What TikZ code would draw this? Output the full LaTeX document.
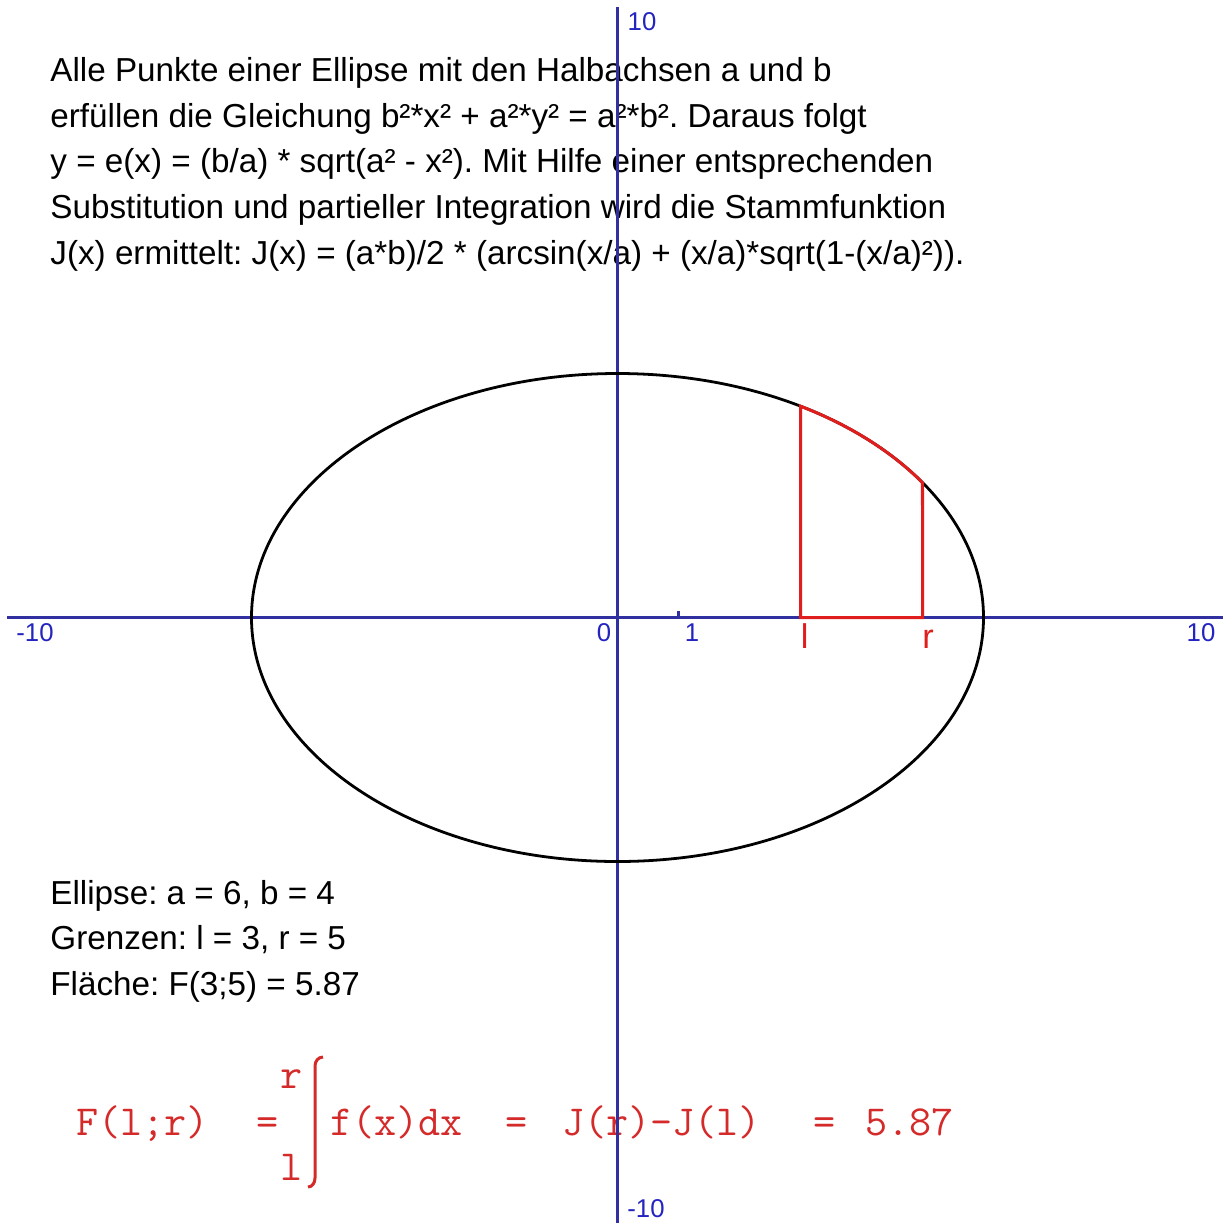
\documentclass[tikz,border=0pt]{standalone}
\usepackage{fontspec}
\setmainfont{Liberation Sans}
\usepackage{tikz}
\definecolor{axisblue}{HTML}{3030A0}
\definecolor{tickblue}{HTML}{2424C0}
\definecolor{arealred}{HTML}{E01E1E}
\definecolor{formred}{HTML}{D42A2A}
\frenchspacing

\tikzset{
  txt/.style={anchor=base west, inner sep=0pt, font=\fontsize{15.5}{18}\selectfont},
  axlabel/.style={anchor=base, inner sep=0pt, text=tickblue, font=\fontsize{12}{14}\selectfont},
  limlabel/.style={anchor=base, inner sep=0pt, text=arealred, font=\fontsize{16}{18}\selectfont},
  formula/.style={inner sep=0pt, text=formred, font=\ttfamily\fontsize{20}{24}\selectfont},
  axisline/.style={draw=axisblue, line width=1pt},
  arealine/.style={draw=arealred, line width=1.4pt},
}

\begin{document}
\begin{tikzpicture}[x=1cm, y=1cm]
    \path[use as bounding box, fill=white] (-10.123, -9.926) rectangle (9.926, 10.123);

    % Erklaerung oben
    \node[txt] (t1) at (-9.303, 8.779) {Alle Punkte einer Ellipse mit den Halbachsen a und b};
    \node[txt] (t2) at (-9.303, 8.033) {erfüllen die Gleichung b²*x² + a²*y² = a²*b². Daraus folgt};
    \node[txt] (t3) at (-9.303, 7.287) {y = e(x) = (b/a) * sqrt(a² - x²). Mit Hilfe einer entsprechenden};
    \node[txt] (t4) at (-9.303, 6.541) {Substitution und partieller Integration wird die Stammfunktion};
    \node[txt] (t5) at (-9.303, 5.795) {J(x) ermittelt: J(x) = (a*b)/2 * (arcsin(x/a) + (x/a)*sqrt(1-(x/a)²)).};

    % Werte unten
    \node[txt] (e1) at (-9.303, -4.697) {Ellipse: a = 6, b = 4};
    \node[txt] (e2) at (-9.303, -5.443) {Grenzen: l = 3, r = 5};
    \node[txt] (e3) at (-9.303, -6.189) {Fläche: F(3;5) = 5.87};

    % Formel
    \node[formula, anchor=base west] (flhs) at (-8.877, -8.484) {F(l;r)};
    \node[formula, anchor=base] (feq) at (-5.730, -8.484) {=};
    \node[formula, anchor=base] (fup) at (-5.336, -7.713) {r};
    \node[formula, anchor=base] (flow) at (-5.336, -9.221) {l};
    \draw[draw=formred, line width=1.4pt] (-5.074, -9.336) to[out=0, in=-90] (-4.959, -9.189)
        -- (-4.959, -7.352) to[out=90, in=180] (-4.828, -7.205);
    \node[formula, anchor=base west] (fint) at (-4.713, -8.484) {f(x)dx};
    \node[formula, anchor=base] (feqa) at (-1.648, -8.484) {=};
    \node[formula, anchor=base west] (fdiff) at (-0.912, -8.484) {J(r)-J(l)};
    \node[formula, anchor=base] (feqb) at (3.402, -8.484) {=};
    \node[formula, anchor=base west] (fwert) at (4.057, -8.484) {5.87};

    % Achsen
    \draw[axisline] (-10, 0) -- (9.926, 0);
    \draw[axisline] (0, -9.926) -- (0, 10);
    \draw[axisline] (1, 0) -- (1, 0.1);
    \node[axlabel] (xmin) at (-9.549, -0.40) {-10};
    \node[axlabel] (xmax) at (9.566, -0.40) {10};
    \node[axlabel] (xnull) at (-0.221, -0.40) {0};
    \node[axlabel] (xeins) at (1.221, -0.40) {1};
    \node[axlabel] (ymax) at (0.402, 9.615) {10};
    \node[axlabel] (ymin) at (0.467, -9.83) {-10};

    % Ellipse
    \draw[black, line width=1.3pt] (0, 0) ellipse [x radius=6, y radius=4];

    % Flaeche zwischen l und r
    \draw[arealine] (3, 0) -- (3, 3.4641) arc[start angle=60, end angle=33.557, x radius=6, y radius=4] -- (5, 0) -- cycle;
    \node[limlabel] (lgrenze) at (3.07, -0.5) {l};
    \node[limlabel] (rgrenze) at (5.09, -0.5) {r};
\end{tikzpicture}
\end{document}
